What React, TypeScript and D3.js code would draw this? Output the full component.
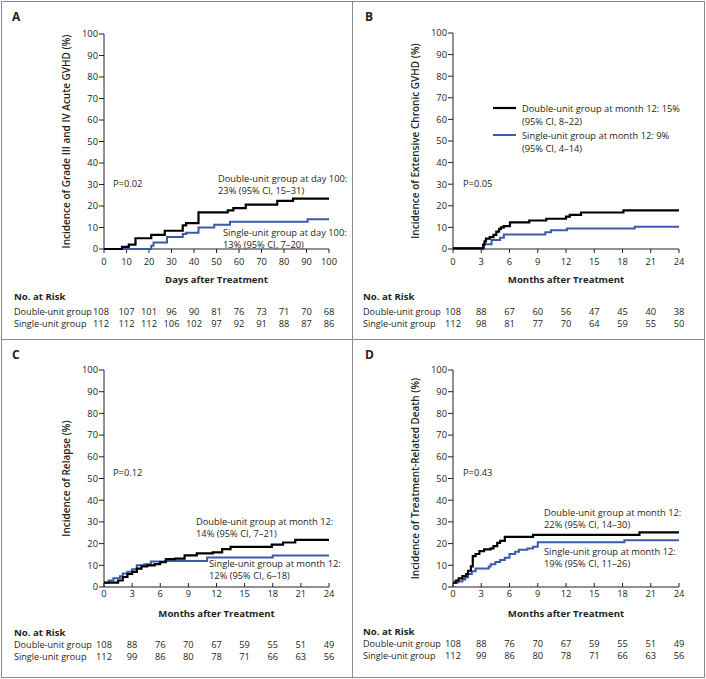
import React from 'react';
import * as d3 from 'd3';

// ---------- DATA ----------
const yTicks = [0, 10, 20, 30, 40, 50, 60, 70, 80, 90, 100];
const dayTicks = [0, 10, 20, 30, 40, 50, 60, 70, 80, 90, 100];
const monthTicks = [0, 3, 6, 9, 12, 15, 18, 21, 24];

// Panel A: grade III–IV acute GVHD (days)
const aDouble: [number, number][] = [[0, 0], [8, 1], [11, 2], [14, 5], [21, 6.6], [27, 8.5], [35, 11], [36.5, 12], [42, 17], [55, 18], [57.5, 19], [63, 20.6], [77, 22.4], [84, 23.4], [100, 23.4]];
const aSingle: [number, number][] = [[0, 0], [21, 1.5], [22, 3], [28, 5.6], [35, 7], [36.5, 7.6], [42, 10], [49, 11.3], [56, 12.7], [90.5, 13.8], [100, 13.8]];

// Panel B: extensive chronic GVHD (months)
const bDouble: [number, number][] = [[0, 0.3], [3.2, 2], [3.35, 3.5], [3.5, 4.8], [3.9, 5.5], [4.3, 6.5], [4.6, 8], [4.9, 9.3], [5.1, 10], [5.4, 10.6], [6.05, 12.3], [8.1, 13.2], [9.9, 14], [12, 15], [12.4, 15.8], [13.6, 16.9], [18.1, 17.9], [24, 17.9]];
const bSingle: [number, number][] = [[0, 0.3], [3.3, 2.2], [4.1, 4.2], [5, 5.2], [5.4, 6.7], [9.8, 7.8], [10.4, 8.7], [12.1, 9.5], [19.3, 10.3], [24, 10.3]];

// Panel C: relapse (months)
const cDouble: [number, number][] = [[0, 2], [1.5, 3], [2, 4.6], [2.5, 6], [3, 7], [3.5, 8.5], [4, 9.5], [4.6, 10], [5.4, 10.5], [6, 11.5], [6.6, 12.8], [7.6, 13.1], [8.6, 14.6], [9.9, 15.5], [11.6, 16], [12.6, 17.5], [13.5, 18.5], [17.9, 19.5], [19.1, 20.5], [20.4, 21.7], [24, 21.7]];
const cSingle: [number, number][] = [[0, 2], [0.5, 3], [1, 4], [1.7, 5], [2, 6.2], [2.5, 7], [3, 8.2], [3.5, 10], [4.3, 10.5], [5, 11.7], [6.5, 12], [11, 13.6], [18, 14.5], [24, 14.5]];

// Panel D: treatment-related death (months)
const dDouble: [number, number][] = [[0, 2], [0.3, 3], [0.6, 4], [1, 5], [1.4, 6], [1.6, 7.5], [1.9, 9.5], [2.1, 14.2], [2.4, 15.2], [2.8, 16.5], [3.3, 17.3], [4, 17.8], [4.3, 18.8], [4.7, 20.3], [5, 21.3], [5.5, 23.1], [8.5, 24], [19.8, 25.2], [24, 25.2]];
const dSingle: [number, number][] = [[0, 2], [0.5, 2.5], [1, 3.5], [1.3, 4.5], [1.6, 6], [2, 7.3], [2.4, 8.5], [3.8, 9.5], [4, 10.5], [4.5, 11.5], [5, 12.5], [5.5, 13.5], [6, 15.2], [6.6, 16.3], [7, 17.2], [7.9, 17.7], [8.5, 18.5], [9, 20.6], [18.2, 21.6], [24, 21.6]];

// Numbers at risk
const aRiskDouble = [108, 107, 101, 96, 90, 81, 76, 73, 71, 70, 68];
const aRiskSingle = [112, 112, 112, 106, 102, 97, 92, 91, 88, 87, 86];
const bRiskDouble = [108, 88, 67, 60, 56, 47, 45, 40, 38];
const bRiskSingle = [112, 98, 81, 77, 70, 64, 59, 55, 50];
const cRiskDouble = [108, 88, 76, 70, 67, 59, 55, 51, 49];
const cRiskSingle = [112, 99, 86, 80, 78, 71, 66, 63, 56];
const dRiskDouble = [108, 88, 76, 70, 67, 59, 55, 51, 49];
const dRiskSingle = [112, 99, 86, 80, 78, 71, 66, 63, 56];

const FONT = '"Open Sans", "Noto Sans", sans-serif';
const TXT = '#231f20';
const BLUE = '#3a5ba8';
const FS = 9.3;

type Note = { x: number; y: number; lines: string[] };
type Panel = {
  letter: string; ox: number; oy: number;
  x0: number; x1: number; yTop: number; yBot: number;
  xMax: number; xTicks: number[]; xTitle: string; yTitle: string;
  inward: boolean;
  double: [number, number][]; single: [number, number][];
  riskD: number[]; riskS: number[];
  pText: string; pX: number; pY: number;
  notes: Note[]; legend?: boolean;
  tickLabY: number; titleY: number; riskHeadY: number; riskY1: number; riskY2: number;
};

const panels: Panel[] = [
  {
    letter: 'A', ox: 0, oy: 0, x0: 104, x1: 329, yTop: 34, yBot: 249, xMax: 100, xTicks: dayTicks,
    xTitle: 'Days after Treatment', yTitle: 'Incidence of Grade III and IV Acute GVHD (%)', inward: false,
    double: aDouble, single: aSingle, riskD: aRiskDouble, riskS: aRiskSingle,
    pText: 'P=0.02', pX: 113, pY: 187,
    notes: [
      { x: 218, y: 182, lines: ['Double-unit group at day 100:', '23% (95% CI, 15–31)'] },
      { x: 223, y: 236, lines: ['Single-unit group at day 100:', '13% (95% CI, 7–20)'] },
    ],
    tickLabY: 265, titleY: 283, riskHeadY: 300, riskY1: 315, riskY2: 327,
  },
  {
    letter: 'B', ox: 353, oy: 0, x0: 100, x1: 326, yTop: 33, yBot: 249, xMax: 24, xTicks: monthTicks,
    xTitle: 'Months after Treatment', yTitle: 'Incidence of Extensive Chronic GVHD (%)', inward: false,
    double: bDouble, single: bSingle, riskD: bRiskDouble, riskS: bRiskSingle,
    pText: 'P=0.05', pX: 110, pY: 187, notes: [], legend: true,
    tickLabY: 265, titleY: 283, riskHeadY: 300, riskY1: 315, riskY2: 327,
  },
  {
    letter: 'C', ox: 0, oy: 340, x0: 104, x1: 329, yTop: 30, yBot: 247, xMax: 24, xTicks: monthTicks,
    xTitle: 'Months after Treatment', yTitle: 'Incidence of Relapse (%)', inward: true,
    double: cDouble, single: cSingle, riskD: cRiskDouble, riskS: cRiskSingle,
    pText: 'P=0.12', pX: 113, pY: 136,
    notes: [
      { x: 196, y: 185, lines: ['Double-unit group at month 12:', '14% (95% CI, 7–21)'] },
      { x: 209, y: 227, lines: ['Single-unit group at month 12:', '12% (95% CI, 6–18)'] },
    ],
    tickLabY: 257, titleY: 277, riskHeadY: 295.5, riskY1: 308, riskY2: 320,
  },
  {
    letter: 'D', ox: 353, oy: 340, x0: 100, x1: 326, yTop: 30, yBot: 247, xMax: 24, xTicks: monthTicks,
    xTitle: 'Months after Treatment', yTitle: 'Incidence of Treatment-Related Death (%)', inward: true,
    double: dDouble, single: dSingle, riskD: dRiskDouble, riskS: dRiskSingle,
    pText: 'P=0.43', pX: 110, pY: 136,
    notes: [
      { x: 191, y: 176, lines: ['Double-unit group at month 12:', '22% (95% CI, 14–30)'] },
      { x: 191, y: 215, lines: ['Single-unit group at month 12:', '19% (95% CI, 11–26)'] },
    ],
    tickLabY: 257, titleY: 277, riskHeadY: 294.5, riskY1: 307, riskY2: 319,
  },
];

function PanelView({ p }: { p: Panel }) {
  const x = d3.scaleLinear().domain([0, p.xMax]).range([p.x0, p.x1]);
  const y = d3.scaleLinear().domain([0, 100]).range([p.yBot, p.yTop]);
  const line = d3.line<[number, number]>().x(d => x(d[0])).y(d => y(d[1])).curve(d3.curveStepAfter);
  const tl = 4;
  const lx = p.ox === 0 ? 14 : 10;
  const firstShift = p.letter === 'A' ? 3 : 0;
  return (
    <g transform={`translate(${p.ox},${p.oy})`} fontFamily={FONT} fill={TXT}>
      <text x={12} y={p.oy === 0 ? 21 : 19} fontSize={12} fontWeight={700}>{p.letter}</text>
      {/* y axis */}
      <line x1={p.x0} x2={p.x0} y1={y(100)} y2={y(0)} stroke="#222" strokeWidth={1} />
      {yTicks.map(t => (
        <g key={'y' + t}>
          <line x1={p.x0 - 5} x2={p.x0} y1={y(t)} y2={y(t)} stroke="#222" strokeWidth={1} />
          <text x={p.x0 - 6} y={y(t) + 3.3} fontSize={FS} textAnchor="end">{t}</text>
        </g>
      ))}
      {/* x axis */}
      <line x1={x(0)} x2={x(p.xMax)} y1={p.yBot} y2={p.yBot} stroke="#222" strokeWidth={1} />
      {p.xTicks.map(t => (
        <g key={'x' + t}>
          <line x1={x(t)} x2={x(t)} y1={p.yBot} y2={p.inward ? p.yBot - tl : p.yBot + tl} stroke="#222" strokeWidth={1} />
          <text x={x(t)} y={p.tickLabY} fontSize={FS} textAnchor="middle">{t}</text>
        </g>
      ))}
      <text x={(p.x0 + p.x1) / 2} y={p.titleY} fontSize={9.6} fontWeight={700} textAnchor="middle">{p.xTitle}</text>
      <text transform={`translate(${p.x0 - 34},${(p.yTop + p.yBot) / 2}) rotate(-90)`} fontSize={10} fontWeight={600} textAnchor="middle">{p.yTitle}</text>
      {/* curves */}
      <path d={line(p.single) || ''} fill="none" stroke={BLUE} strokeWidth={2} />
      <path d={line(p.double) || ''} fill="none" stroke="#000" strokeWidth={2.2} />
      {/* annotations */}
      <text x={p.pX} y={p.pY} fontSize={FS}>{p.pText}</text>
      {p.notes.map((n, i) => (
        <text key={i} x={n.x} y={n.y} fontSize={FS}>
          {n.lines.map((l, j) => <tspan key={j} x={n.x} dy={j === 0 ? 0 : 11.5}>{l}</tspan>)}
        </text>
      ))}
      {p.legend && (
        <g>
          <line x1={140} x2={163} y1={108} y2={108} stroke="#000" strokeWidth={2.2} />
          <text x={169} y={111.5} fontSize={FS}>
            <tspan x={169}>Double-unit group at month 12: 15%</tspan>
            <tspan x={169} dy={13}>(95% CI, 8–22)</tspan>
          </text>
          <line x1={140} x2={163} y1={135} y2={135} stroke={BLUE} strokeWidth={2} />
          <text x={169} y={138.5} fontSize={FS}>
            <tspan x={169}>Single-unit group at month 12: 9%</tspan>
            <tspan x={169} dy={13}>(95% CI, 4–14)</tspan>
          </text>
        </g>
      )}
      {/* risk table */}
      <text x={lx} y={p.riskHeadY} fontSize={9.6} fontWeight={700}>No. at Risk</text>
      <text x={lx} y={p.riskY1} fontSize={9.1}>Double-unit group</text>
      <text x={lx} y={p.riskY2} fontSize={9.1}>Single-unit group</text>
      {p.riskD.map((v, i) => (
        <text key={'rd' + i} x={x(p.xTicks[i]) - (i === 0 ? firstShift : 0)} y={p.riskY1} fontSize={FS} textAnchor="middle">{v}</text>
      ))}
      {p.riskS.map((v, i) => (
        <text key={'rs' + i} x={x(p.xTicks[i]) - (i === 0 ? firstShift : 0)} y={p.riskY2} fontSize={FS} textAnchor="middle">{v}</text>
      ))}
    </g>
  );
}

export default function App() {
  return (
    <div style={{ position: 'absolute', left: 0, top: 0 }}>
      <svg width={706} height={679} style={{ display: 'block', background: '#fff' }}>
        <rect x={0} y={0} width={706} height={679} fill="#fff" />
        <rect x={1.5} y={1.5} width={703} height={676} fill="none" stroke="#8a8a8a" strokeWidth={1} />
        <line x1={352.5} x2={352.5} y1={1.5} y2={677.5} stroke="#8a8a8a" strokeWidth={1} />
        <line x1={1.5} x2={704.5} y1={339.5} y2={339.5} stroke="#8a8a8a" strokeWidth={1} />
        {panels.map(p => <PanelView key={p.letter} p={p} />)}
      </svg>
    </div>
  );
}
